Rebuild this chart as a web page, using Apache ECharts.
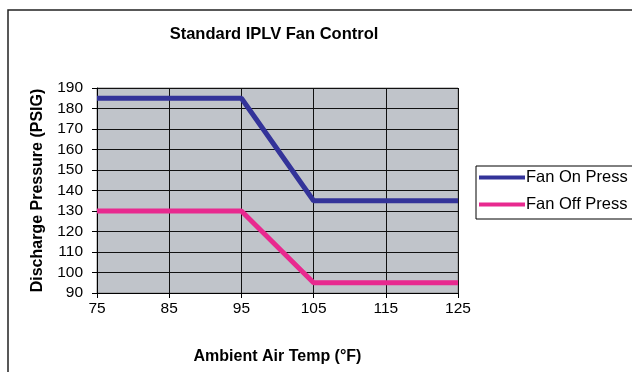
<!DOCTYPE html>
<html>
<head>
<meta charset="utf-8">
<script src="https://cdn.jsdelivr.net/npm/echarts@6/dist/echarts.min.js"></script>
<style>
  html, body { margin: 0; padding: 0; background: #fff; }
  #chart { width: 632px; height: 372px; }
</style>
</head>
<body>
<div id="chart"></div>
<script>
// Ambient temperature (°F) breakpoints and discharge pressure setpoints (PSIG)
const ambientTemps = [75, 95, 105, 125];
const fanOnPress = [185, 185, 135, 135];
const fanOffPress = [130, 130, 95, 95];
const seriesNames = ['Fan On Press', 'Fan Off Press'];
const seriesColors = ['#333399', '#E8298F'];

const FONT = '"Liberation Sans", Arial, sans-serif';

function pairs(xs, ys) {
  return xs.map((x, i) => [x, ys[i]]);
}

const chart = echarts.init(document.getElementById('chart'), null, { renderer: 'canvas' });

chart.setOption({
  animation: false,
  backgroundColor: '#ffffff',
  title: {
    text: 'Standard IPLV Fan Control',
    left: 269,
    textAlign: 'center',
    top: 21,
    textStyle: { fontFamily: FONT, fontSize: 16.5, fontWeight: 'bold', color: '#000' }
  },
  graphic: [{
    type: 'rect',
    shape: { x: 8, y: 10, width: 700, height: 400 },
    style: { fill: 'none', stroke: '#222', lineWidth: 1.5 },
    z: -1
  }],
  legend: {
    orient: 'vertical',
    left: 476,
    top: 166,
    padding: [3, 40, 6, 3],
    itemGap: 10,
    itemWidth: 46,
    itemHeight: 4,
    borderColor: '#000',
    borderWidth: 1,
    backgroundColor: '#fff',
    icon: 'rect',
    data: seriesNames,
    textStyle: { fontFamily: FONT, fontSize: 16.5, color: '#000', lineHeight: 16, padding: [0, 0, 0, -4] }
  },
  grid: {
    left: 97, top: 88, right: 174, bottom: 79,
    show: true,
    backgroundColor: '#C0C4CA',
    borderColor: '#8A8A8A',
    borderWidth: 1
  },
  xAxis: {
    type: 'value',
    min: 75, max: 125, interval: 10,
    name: 'Ambient Air Temp (°F)',
    nameLocation: 'middle',
    nameGap: 56,
    nameTextStyle: { fontFamily: FONT, fontSize: 16, fontWeight: 'bold', color: '#000' },
    axisLine: { show: true, lineStyle: { color: '#000', width: 1 } },
    axisTick: { show: true, length: 5, lineStyle: { color: '#000' } },
    axisLabel: { fontFamily: FONT, fontSize: 15.5, color: '#000', margin: 8 },
    splitLine: { show: true, lineStyle: { color: '#111', width: 1 } }
  },
  yAxis: {
    type: 'value',
    min: 90, max: 190, interval: 10,
    name: 'Discharge Pressure (PSIG)',
    nameLocation: 'middle',
    nameGap: 51,
    nameTextStyle: { fontFamily: FONT, fontSize: 16, fontWeight: 'bold', color: '#000' },
    axisLine: { show: true, lineStyle: { color: '#000', width: 1 } },
    axisTick: { show: true, length: 5, lineStyle: { color: '#000' } },
    axisLabel: { fontFamily: FONT, fontSize: 15.5, color: '#000', margin: 14 },
    splitLine: { show: true, lineStyle: { color: '#111', width: 1 } }
  },
  series: [
    {
      name: seriesNames[0],
      type: 'line',
      data: pairs(ambientTemps, fanOnPress),
      symbol: 'none',
      color: seriesColors[0],
      lineStyle: { color: seriesColors[0], width: 5 },
      z: 3
    },
    {
      name: seriesNames[1],
      type: 'line',
      data: pairs(ambientTemps, fanOffPress),
      symbol: 'none',
      color: seriesColors[1],
      lineStyle: { color: seriesColors[1], width: 5 },
      z: 3
    }
  ]
});
</script>
</body>
</html>
